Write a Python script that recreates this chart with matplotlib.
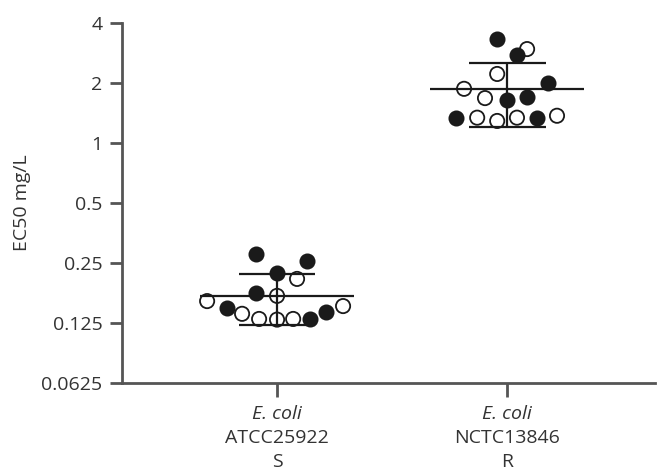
import matplotlib
matplotlib.use('Agg')
import matplotlib.pyplot as plt
import numpy as np

plt.rcParams['font.family'] = ['Open Sans', 'DejaVu Sans']

# strains on the x axis
species = ['E. coli', 'E. coli']
strains = ['ATCC25922', 'NCTC13846']
phenotype = ['S', 'R']

# EC50 values (mg/L), filled and open circles, per strain
s_filled = [0.278, 0.256, 0.223, 0.177, 0.149, 0.131, 0.142]
s_open = [0.208, 0.171, 0.161, 0.139, 0.152, 0.131, 0.130, 0.131]
r_filled = [3.32, 2.76, 2.00, 1.70, 1.64, 1.34, 1.34]
r_open = [2.96, 2.22, 1.87, 1.68, 1.34, 1.29, 1.34, 1.37]

# horizontal jitter of each point (x units)
s_filled_dx = [-0.091, 0.130, 0.0, -0.091, -0.217, 0.143, 0.213]
s_open_dx = [0.087, 0.0, -0.304, -0.152, 0.287, -0.078, 0.0, 0.070]
r_filled_dx = [-0.043, 0.043, 0.178, 0.087, 0.0, -0.222, 0.130]
r_open_dx = [0.087, -0.043, -0.187, -0.096, -0.130, -0.043, 0.043, 0.217]

# mean and SD bars
means = [0.171, 1.87]
sd_low = [0.122, 1.20]
sd_high = [0.220, 2.52]

ink = '#1a1a1a'
axc = '#555555'
txt = '#333333'

fig = plt.figure(figsize=(6.58, 4.72), dpi=100)
ax = fig.add_axes([122 / 658, 1 - 383 / 472, (655 - 122) / 658, (383 - 23) / 472])

filled = [s_filled, r_filled]
opened = [s_open, r_open]
filled_dx = [s_filled_dx, r_filled_dx]
open_dx = [s_open_dx, r_open_dx]

for i in range(2):
    xc = i + 1
    ax.hlines(means[i], xc - 0.335, xc + 0.335, color=ink, lw=1.6, zorder=1)
    ax.hlines([sd_low[i], sd_high[i]], xc - 0.167, xc + 0.167, color=ink, lw=1.6, zorder=1)
    ax.vlines(xc, sd_low[i], sd_high[i], color=ink, lw=1.6, zorder=1)
    ax.scatter(xc + np.array(filled_dx[i]), filled[i], s=105, facecolor=ink,
               edgecolor=ink, linewidth=1.3, zorder=3)
    ax.scatter(xc + np.array(open_dx[i]), opened[i], s=105, facecolor='none',
               edgecolor=ink, linewidth=1.3, zorder=3)

ax.set_yscale('log', base=2)
ax.set_ylim(0.0625, 4)
ax.set_xlim(0.326, 2.643)
yt = [0.0625, 0.125, 0.25, 0.5, 1, 2, 4]
ax.set_yticks(yt)
ax.set_yticklabels(['0.0625', '0.125', '0.25', '0.5', '1', '2', '4'])
ax.minorticks_off()
ax.set_xticks([1, 2])
ax.set_xticklabels(['', ''])

for side in ['top', 'right']:
    ax.spines[side].set_visible(False)
for side in ['left', 'bottom']:
    ax.spines[side].set_color(axc)
    ax.spines[side].set_linewidth(2)
ax.tick_params(axis='y', length=9, width=2, color=axc, labelsize=14,
               labelcolor=txt, pad=5)
ax.tick_params(axis='x', length=10, width=2, color=axc)

tr = ax.get_xaxis_transform()
for i in range(2):
    xc = i + 1
    ax.text(xc, -0.086, species[i], transform=tr, ha='center', va='center',
            fontsize=14, style='italic', color=txt)
    ax.text(xc, -0.153, strains[i], transform=tr, ha='center', va='center',
            fontsize=14, color=txt)
    ax.text(xc, -0.219, phenotype[i], transform=tr, ha='center', va='center',
            fontsize=14, color=txt)

ax.set_ylabel('EC50 mg/L', fontsize=14, color=txt)
ax.yaxis.set_label_coords(-(122 - 31) / 533, 0.5)

fig.savefig('out.png', dpi=100, facecolor='white')
